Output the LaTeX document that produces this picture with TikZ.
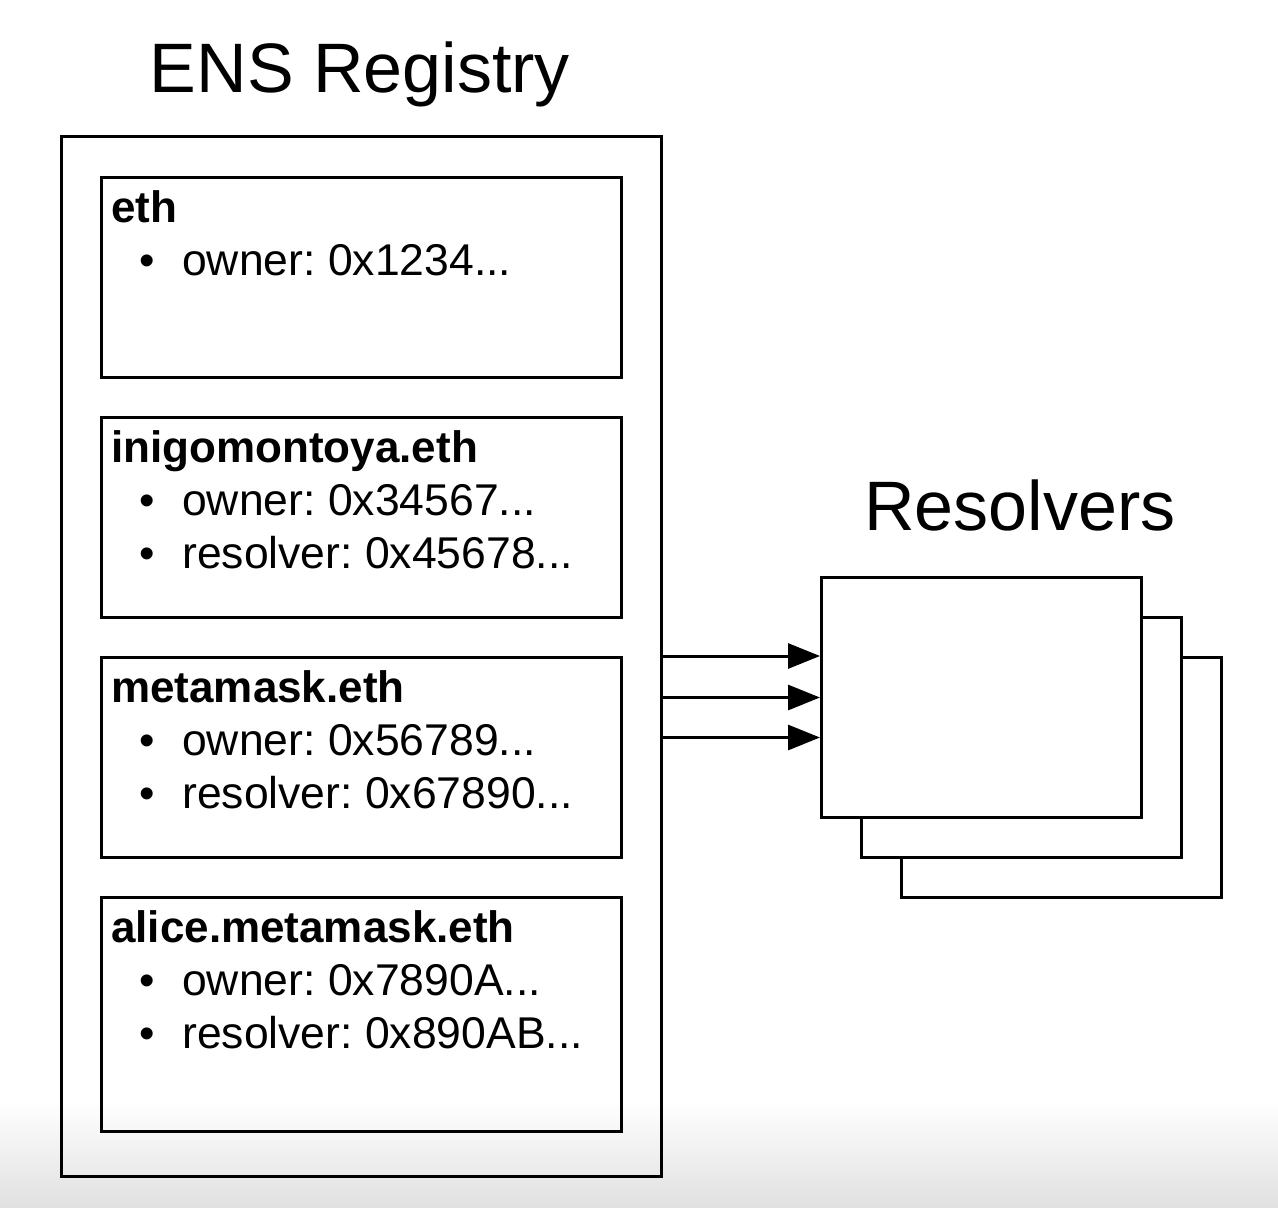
\documentclass[tikz,border=0pt]{standalone}
\usepackage{fontspec}
\setmainfont{Liberation Sans}
\usetikzlibrary{arrows.meta}
\frenchspacing
\begin{document}
\begin{tikzpicture}[x=1pt,y=-1pt,
  entrybox/.style={draw,line width=3pt,minimum width=520pt,minimum height=200pt,inner sep=0pt,anchor=north west},
  resbox/.style={draw,line width=3pt,fill=white,minimum width=320pt,minimum height=240pt,inner sep=0pt,anchor=north west},
  title/.style={inner sep=0pt,anchor=base,font=\fontsize{70}{84}\selectfont},
  head/.style={inner sep=0pt,anchor=base west,font=\fontsize{44}{52}\selectfont\bfseries},
  item/.style={inner sep=0pt,anchor=base west,font=\fontsize{44.5}{52}\selectfont},
  bul/.style={inner sep=0pt,anchor=base,font=\fontsize{44}{52}\selectfont},
  arr/.style={line width=3pt,-{Triangle[length=32pt,width=25pt]}}
]
\useasboundingbox (0,0) rectangle (1278,1208);
\shade[top color=white,bottom color=black!12] (0,1100) rectangle (1278,1208);

\node[title] (t1) at (360,92) {ENS Registry};
\node[title] (t2) at (1020,530) {Resolvers};

\node[draw,line width=3pt,minimum width=600pt,minimum height=1040pt,inner sep=0pt,anchor=north west] (registry) at (60,135) {};

\node[entrybox] (eth) at (100,176) {};
\node[entrybox] (inigo) at (100,416) {};
\node[entrybox] (meta) at (100,656) {};
\node[entrybox,minimum height=234pt] (alice) at (100,896) {};

% eth
\node[head] (ethh) at ([xshift=11pt,yshift=-46pt]eth.north west) {eth};
\node[bul] (ethb1) at ([xshift=47pt,yshift=-99pt]eth.north west) {•};
\node[item] (etho) at ([xshift=82pt,yshift=-99pt]eth.north west) {owner: 0x1234...};

% inigomontoya
\node[head] (inigoh) at ([xshift=11pt,yshift=-46pt]inigo.north west) {inigomontoya.eth};
\node[bul] (inigob1) at ([xshift=47pt,yshift=-99pt]inigo.north west) {•};
\node[item] (inigoo) at ([xshift=82pt,yshift=-99pt]inigo.north west) {owner: 0x34567...};
\node[bul] (inigob2) at ([xshift=47pt,yshift=-152pt]inigo.north west) {•};
\node[item] (inigor) at ([xshift=82pt,yshift=-152pt]inigo.north west) {resolver: 0x45678...};

% metamask
\node[head] (metah) at ([xshift=11pt,yshift=-46pt]meta.north west) {metamask.eth};
\node[bul] (metab1) at ([xshift=47pt,yshift=-99pt]meta.north west) {•};
\node[item] (metao) at ([xshift=82pt,yshift=-99pt]meta.north west) {owner: 0x56789...};
\node[bul] (metab2) at ([xshift=47pt,yshift=-152pt]meta.north west) {•};
\node[item] (metar) at ([xshift=82pt,yshift=-152pt]meta.north west) {resolver: 0x67890...};

% alice
\node[head] (aliceh) at ([xshift=11pt,yshift=-46pt]alice.north west) {alice.metamask.eth};
\node[bul] (aliceb1) at ([xshift=47pt,yshift=-99pt]alice.north west) {•};
\node[item] (aliceo) at ([xshift=82pt,yshift=-99pt]alice.north west) {owner: 0x7890A...};
\node[bul] (aliceb2) at ([xshift=47pt,yshift=-152pt]alice.north west) {•};
\node[item] (alicer) at ([xshift=82pt,yshift=-152pt]alice.north west) {resolver: 0x890AB...};

% resolvers stack
\node[resbox] (res3) at (900,656) {};
\node[resbox] (res2) at (860,616) {};
\node[resbox] (res1) at (820,576) {};

% arrows
\draw[arr] (registry.east |- meta.north) -- (res1.west |- meta.north);
\draw[arr] (registry.east |- res1.west) -- (res1.west);
\draw[arr] ([yshift=-40pt]registry.east |- res1.west) -- ([yshift=-40pt]res1.west);
\end{tikzpicture}
\end{document}
